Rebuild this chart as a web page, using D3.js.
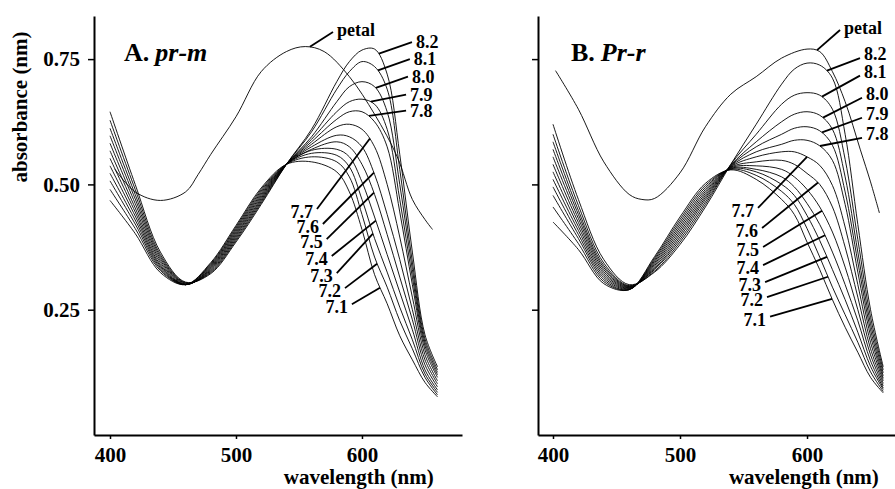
<!DOCTYPE html>
<html>
<head>
<meta charset="utf-8">
<script src="https://cdn.jsdelivr.net/npm/d3@7"></script>
<style>
  body { margin: 0; background: #fff; }
  svg text { font-family: "Liberation Serif", "Times New Roman", serif; font-weight: bold; fill: #000; }
</style>
</head>
<body>
<svg id="chart" width="895" height="489"></svg>
<script>
// wavelength grid shared by the pH series
var wl = [400, 420, 440, 460, 480, 500, 520, 540, 560, 580, 590, 600, 610, 620, 630, 640, 650, 660];
var phLabels = ["8.2", "8.1", "8.0", "7.9", "7.8", "7.7", "7.6", "7.5", "7.4", "7.3", "7.2", "7.1"];

// panel A (pr-m) absorbance, one row per pH
var absA = [
  [.645, .500, .365, .305, .322, .385, .460, .540, .610, .705, .745, .768, .770, .720, .560, .365, .200, .136],
  [.628, .490, .360, .304, .324, .388, .463, .540, .605, .690, .725, .745, .735, .690, .530, .345, .192, .130],
  [.612, .480, .356, .303, .326, .391, .466, .540, .595, .665, .695, .705, .695, .645, .500, .330, .185, .125],
  [.597, .471, .352, .302, .328, .394, .469, .540, .590, .645, .665, .670, .660, .610, .470, .315, .178, .120],
  [.582, .462, .348, .301, .330, .397, .472, .540, .585, .630, .645, .645, .625, .575, .445, .300, .170, .115],
  [.567, .453, .344, .300, .332, .400, .475, .540, .580, .615, .620, .610, .575, .500, .395, .275, .160, .108],
  [.552, .445, .340, .300, .334, .403, .478, .540, .575, .598, .595, .575, .520, .440, .350, .250, .150, .102],
  [.537, .437, .337, .300, .336, .406, .481, .540, .570, .585, .575, .540, .480, .400, .315, .230, .140, .096],
  [.522, .429, .334, .300, .338, .409, .484, .540, .568, .570, .555, .505, .435, .360, .285, .210, .130, .090],
  [.507, .421, .331, .300, .340, .412, .487, .540, .562, .558, .535, .470, .392, .325, .255, .190, .122, .085],
  [.490, .412, .328, .300, .342, .415, .490, .540, .555, .545, .515, .440, .355, .295, .228, .172, .115, .080],
  [.468, .402, .324, .300, .344, .418, .493, .540, .545, .525, .485, .410, .320, .262, .198, .150, .105, .076]
];

// panel B (Pr-r) absorbance, one row per pH
var absB = [
  [.620, .470, .350, .300, .325, .380, .455, .540, .620, .700, .730, .742, .738, .712, .600, .420, .250, .136],
  [.600, .458, .343, .298, .327, .385, .460, .540, .600, .660, .678, .683, .678, .650, .550, .390, .235, .130],
  [.585, .448, .338, .297, .330, .390, .465, .538, .585, .625, .640, .645, .638, .610, .515, .365, .222, .124],
  [.570, .440, .334, .296, .332, .395, .470, .537, .575, .600, .612, .615, .607, .578, .485, .345, .210, .118],
  [.555, .432, .330, .295, .335, .400, .474, .536, .565, .580, .588, .588, .577, .548, .460, .325, .198, .113],
  [.540, .424, .326, .294, .338, .405, .478, .535, .555, .565, .565, .555, .538, .498, .415, .300, .185, .108],
  [.525, .416, .322, .293, .341, .410, .482, .534, .545, .548, .540, .522, .500, .455, .375, .275, .172, .103],
  [.510, .408, .318, .292, .344, .415, .486, .533, .537, .530, .515, .490, .455, .405, .335, .250, .160, .098],
  [.495, .400, .314, .291, .347, .420, .490, .532, .530, .515, .495, .462, .420, .365, .300, .228, .148, .094],
  [.478, .392, .310, .290, .350, .425, .494, .531, .525, .500, .478, .438, .388, .330, .270, .205, .137, .091],
  [.455, .382, .306, .290, .353, .430, .498, .530, .518, .486, .460, .412, .355, .295, .240, .185, .126, .087],
  [.425, .370, .302, .290, .356, .435, .502, .529, .510, .470, .440, .385, .330, .270, .215, .165, .115, .084]
];

// petal spectra
var petalWlA = [404, 420, 440, 460, 470, 480, 500, 520, 540, 555, 570, 590, 610, 628, 640, 650, 656];
var petalAbsA = [.530, .485, .468, .485, .520, .560, .635, .725, .765, .775, .765, .715, .640, .555, .470, .430, .410];
var petalWlB = [402, 420, 440, 460, 470, 480, 500, 520, 540, 560, 580, 600, 610, 620, 630, 642, 650, 657];
var petalAbsB = [.727, .650, .545, .480, .470, .472, .523, .615, .680, .715, .752, .770, .765, .725, .665, .569, .505, .443];

var yTicks = [0.25, 0.50, 0.75];
var xTicks = [400, 500, 600];

// label leaders: [text, wavelength where leader meets curve, outer end wavelength, outer end absorbance, side]
var leadersA = [
  ["petal", 558.7, 577, 0.804, "r"],
  ["8.2", 613.5, 639.7, 0.784, "r"], ["8.1", 612.7, 638, 0.750, "r"], ["8.0", 611, 636.5, 0.715, "r"],
  ["7.9", 607, 635, 0.679, "r"], ["7.8", 605.5, 635, 0.647, "r"],
  ["7.7", 606.3, 564.3, 0.451, "l"], ["7.6", 609.5, 569, 0.421, "l"], ["7.5", 609.5, 572, 0.391, "l"],
  ["7.4", 611, 576, 0.357, "l"], ["7.3", 608.7, 580, 0.323, "l"], ["7.2", 612, 586.5, 0.293, "l"],
  ["7.1", 614.3, 592, 0.261, "l"]
];
var leadersB = [
  ["petal", 607.9, 626, 0.808, "r"],
  ["8.2", 615.7, 641.7, 0.752, "r"], ["8.1", 611.8, 641.7, 0.717, "r"], ["8.0", 612.6, 643.3, 0.673, "r"],
  ["7.9", 611.8, 643.3, 0.633, "r"], ["7.8", 610.2, 643.3, 0.593, "r"],
  ["7.7", 600, 561.4, 0.453, "l"], ["7.6", 608.7, 564.6, 0.413, "l"], ["7.5", 611.8, 565.4, 0.375, "l"],
  ["7.4", 614.2, 565.4, 0.339, "l"], ["7.3", 615.7, 567, 0.305, "l"], ["7.2", 616.5, 568.5, 0.275, "l"],
  ["7.1", 619.7, 570.9, 0.236, "l"]
];

var svg = d3.select("#chart");

var y = d3.scaleLinear().domain([0, 0.836]).range([435, 16]);

var panels = [
  { key: "A", name: "pr-m", x: d3.scaleLinear().domain([387.3, 679.4]).range([94, 462]),
    abs: absA, petalWl: petalWlA, petalAbs: petalAbsA, leaders: leadersA, rdy: 6, showY: true, titleX: 124 },
  { key: "B", name: "Pr-r", x: d3.scaleLinear().domain([388.2, 673.2]).range([538, 900]),
    abs: absB, petalWl: petalWlB, petalAbs: petalAbsB, leaders: leadersB, rdy: 2, showY: false, titleX: 571 }
];

// find the point on a drawn path at a given x
function pointAtX(node, px) {
  var len = node.getTotalLength(), lo = 0, hi = len;
  for (var i = 0; i < 40; i++) {
    var mid = (lo + hi) / 2;
    if (node.getPointAtLength(mid).x < px) lo = mid; else hi = mid;
  }
  return node.getPointAtLength((lo + hi) / 2);
}

panels.forEach(function(p) {
  var x = p.x;
  var g = svg.append("g");

  var line = d3.line()
    .x(function(d) { return x(d[0]); })
    .y(function(d) { return y(d[1]); })
    .curve(d3.curveCatmullRom.alpha(0.5));

  // pH spectra
  var paths = {};
  p.abs.forEach(function(row, i) {
    var pts = wl.map(function(w, j) { return [w, row[j]]; });
    paths[phLabels[i]] = g.append("path")
      .datum(pts)
      .attr("fill", "none")
      .attr("stroke", "#000")
      .attr("stroke-width", 0.9)
      .attr("d", line);
  });

  // petal spectrum
  paths["petal"] = g.append("path")
    .datum(p.petalWl.map(function(w, j) { return [w, p.petalAbs[j]]; }))
    .attr("fill", "none")
    .attr("stroke", "#000")
    .attr("stroke-width", 0.9)
    .attr("d", line);

  // axes
  var yAxis = d3.axisLeft(y).tickValues(yTicks).tickSize(6).tickSizeOuter(0).tickPadding(8)
    .tickFormat(p.showY ? d3.format(".2f") : "");
  var ya = g.append("g").attr("transform", "translate(" + x.range()[0] + ",0)").call(yAxis);

  var xAxis = d3.axisBottom(x).tickValues(xTicks).tickSize(4).tickSizeOuter(0).tickPadding(8);
  var xa = g.append("g").attr("transform", "translate(0," + y.range()[0] + ")").call(xAxis);

  [ya, xa].forEach(function(a) {
    a.select(".domain").attr("stroke-width", 2);
    a.selectAll(".tick line").attr("stroke-width", 1.5);
    a.selectAll("text").style("font-size", "21px");
  });

  // axis titles
  g.append("text")
    .attr("x", x(597.5))
    .attr("y", 484)
    .attr("text-anchor", "middle")
    .style("font-size", "21px")
    .text("wavelength (nm)");

  if (p.showY) {
    g.append("text")
      .attr("transform", "translate(27,107) rotate(-90)")
      .attr("text-anchor", "middle")
      .style("font-size", "21px")
      .text("absorbance (nm)");
  }

  // panel title
  var t = g.append("text")
    .attr("x", p.titleX)
    .attr("y", 61)
    .style("font-size", "26px");
  t.append("tspan").text(p.key + ".");
  t.append("tspan").attr("dx", 6).style("font-style", "italic").text(p.name);

  // leaders and labels
  p.leaders.forEach(function(l) {
    var node = paths[l[0]].node();
    var a = pointAtX(node, x(l[1]));
    var ox = x(l[2]), oy = y(l[3]);
    g.append("line")
      .attr("x1", a.x).attr("y1", a.y)
      .attr("x2", ox).attr("y2", oy)
      .attr("stroke", "#000")
      .attr("stroke-width", 1.8);
    var right = l[4] === "r";
    g.append("text")
      .attr("x", right ? ox + 4 : ox - 4)
      .attr("y", right ? oy + (l[0] === "petal" ? 4 : p.rdy) : oy + 9)
      .attr("text-anchor", right ? "start" : "end")
      .style("font-size", "18px")
      .text(l[0]);
  });
});
</script>
</body>
</html>
